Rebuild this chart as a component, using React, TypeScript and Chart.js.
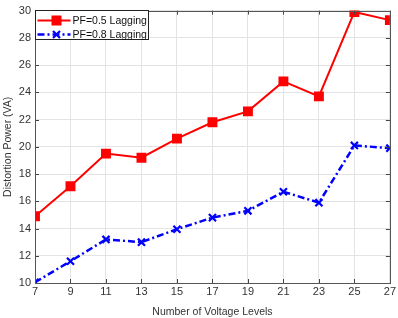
import React, { useEffect, useRef } from "react";
import { Chart, registerables } from "chart.js";

Chart.register(...registerables);

const levels = [7, 9, 11, 13, 15, 17, 19, 21, 23, 25, 27];
const pf05 = [14.9, 17.1, 19.5, 19.2, 20.6, 21.8, 22.6, 24.8, 23.7, 29.9, 29.3];
const pf08 = [10.05, 11.6, 13.2, 13.0, 13.95, 14.8, 15.3, 16.7, 15.9, 20.1, 19.9];
const xTicks = [7, 9, 11, 13, 15, 17, 19, 21, 23, 25, 27];
const seriesNames = ["PF=0.5 Lagging", "PF=0.8 Lagging"];
const xTitle = "Number of Voltage Levels";
const yTitle = "Distortion Power (VA)";

const FONT = "'Liberation Sans', Arial, sans-serif";

const boxPlugin = {
  id: "boxAndLegend",
  afterDatasetsDraw(chart: any) {
    const { ctx, chartArea: a, scales } = chart;
    ctx.save();
    ctx.strokeStyle = "#444";
    ctx.lineWidth = 1;
    const xs = scales.x;
    const ys = scales.y;
    xs.ticks.forEach((t: any) => {
      const px = Math.round(xs.getPixelForValue(t.value)) + 0.5;
      ctx.beginPath();
      ctx.moveTo(px, a.bottom);
      ctx.lineTo(px, a.bottom - 4);
      ctx.moveTo(px, a.top);
      ctx.lineTo(px, a.top + 4);
      ctx.stroke();
    });
    ys.ticks.forEach((t: any) => {
      const py = Math.round(ys.getPixelForValue(t.value)) + 0.5;
      ctx.beginPath();
      ctx.moveTo(a.left, py);
      ctx.lineTo(a.left + 4, py);
      ctx.moveTo(a.right, py);
      ctx.lineTo(a.right - 4, py);
      ctx.stroke();
    });
    ctx.strokeStyle = "#555";
    ctx.lineWidth = 1;
    ctx.strokeRect(Math.round(a.left) + 0.5, Math.round(a.top) + 0.5, Math.round(a.right - a.left), Math.round(a.bottom - a.top));

    // legend
    const lx = Math.round(a.left) + 0.5;
    const ly = Math.round(a.top) - 0.5;
    const lw = 113;
    const lh = 29;
    ctx.fillStyle = "#fff";
    ctx.fillRect(lx, ly, lw, lh);
    ctx.strokeStyle = "#222";
    ctx.lineWidth = 1;
    ctx.strokeRect(lx, ly, lw, lh);
    ctx.font = `10.5px ${FONT}`;
    ctx.textBaseline = "middle";
    chart.data.datasets.forEach((ds: any, i: number) => {
      const cy = ly + 10 + i * 14;
      ctx.strokeStyle = ds.borderColor;
      ctx.lineWidth = ds.borderWidth;
      ctx.setLineDash(ds.borderDash || []);
      ctx.beginPath();
      ctx.moveTo(lx + 2, cy);
      ctx.lineTo(lx + 35, cy);
      ctx.stroke();
      ctx.setLineDash([]);
      const mx = lx + 21;
      if (ds.pointStyle === "rect") {
        ctx.fillStyle = ds.pointBackgroundColor;
        ctx.fillRect(mx - 5, cy - 5, 10, 10);
      } else {
        ctx.strokeStyle = ds.pointBorderColor;
        ctx.lineWidth = 2.2;
        ctx.beginPath();
        ctx.moveTo(mx - 3.5, cy - 3.5);
        ctx.lineTo(mx + 3.5, cy + 3.5);
        ctx.moveTo(mx + 3.5, cy - 3.5);
        ctx.lineTo(mx - 3.5, cy + 3.5);
        ctx.stroke();
      }
      ctx.fillStyle = "#111";
      ctx.fillText(ds.label, lx + 37, cy + 0.5);
    });
    ctx.restore();
  },
};

export default function App() {
  const ref = useRef<HTMLCanvasElement | null>(null);
  useEffect(() => {
    document.body.style.margin = "0";
    const canvas = ref.current!;
    const chart = new Chart(canvas, {
      type: "line",
      data: {
        datasets: [
          {
            label: seriesNames[0],
            data: levels.map((x, i) => ({ x, y: pf05[i] })),
            borderColor: "#ff0000",
            backgroundColor: "#ff0000",
            borderWidth: 2,
            pointStyle: "rect",
            pointRadius: 7,
            pointBackgroundColor: "#ff0000",
            pointBorderColor: "#ff0000",
            pointBorderWidth: 0,
            tension: 0,
          },
          {
            label: seriesNames[1],
            data: levels.map((x, i) => ({ x, y: pf08[i] })),
            borderColor: "#0000ff",
            backgroundColor: "#0000ff",
            borderWidth: 2.5,
            borderDash: [7, 3, 2, 3],
            pointStyle: "crossRot",
            pointRadius: 5,
            pointBorderColor: "#0000ff",
            pointBorderWidth: 2.2,
            tension: 0,
          },
        ],
      },
      options: {
        animation: false,
        responsive: false,
        devicePixelRatio: 1,
        layout: { padding: { top: 5, right: 8, left: 2, bottom: 0 } },
        plugins: { legend: { display: false }, tooltip: { enabled: false } },
        scales: {
          x: {
            type: "linear",
            min: 7,
            max: 27,
            afterBuildTicks: (s: any) => {
              s.ticks = xTicks.map((v) => ({ value: v }));
            },
            afterFit: (s: any) => {
              s.height = 35;
            },
            grid: { color: "#e3e3e3", drawTicks: false },
            border: { display: false },
            ticks: {
              color: "#333",
              font: { family: FONT, size: 11 },
              padding: 2,
              maxRotation: 0,
            },
            title: {
              display: true,
              text: xTitle,
              color: "#333",
              font: { family: FONT, size: 10.5 },
              padding: { top: 1, bottom: 0 },
            },
          },
          y: {
            min: 10,
            max: 30,
            ticks: {
              stepSize: 2,
              color: "#333",
              font: { family: FONT, size: 11 },
              padding: 4,
            },
            afterFit: (s: any) => {
              s.width = 33;
            },
            grid: { color: "#e3e3e3", drawTicks: false },
            border: { display: false },
            title: {
              display: true,
              text: yTitle,
              color: "#333",
              font: { family: FONT, size: 10.5 },
              padding: { top: 0, bottom: 0 },
            },
          },
        },
      },
      plugins: [boxPlugin],
    } as any);
    return () => chart.destroy();
  }, []);
  return <canvas ref={ref} width={398} height={318} style={{ display: "block" }} />;
}
